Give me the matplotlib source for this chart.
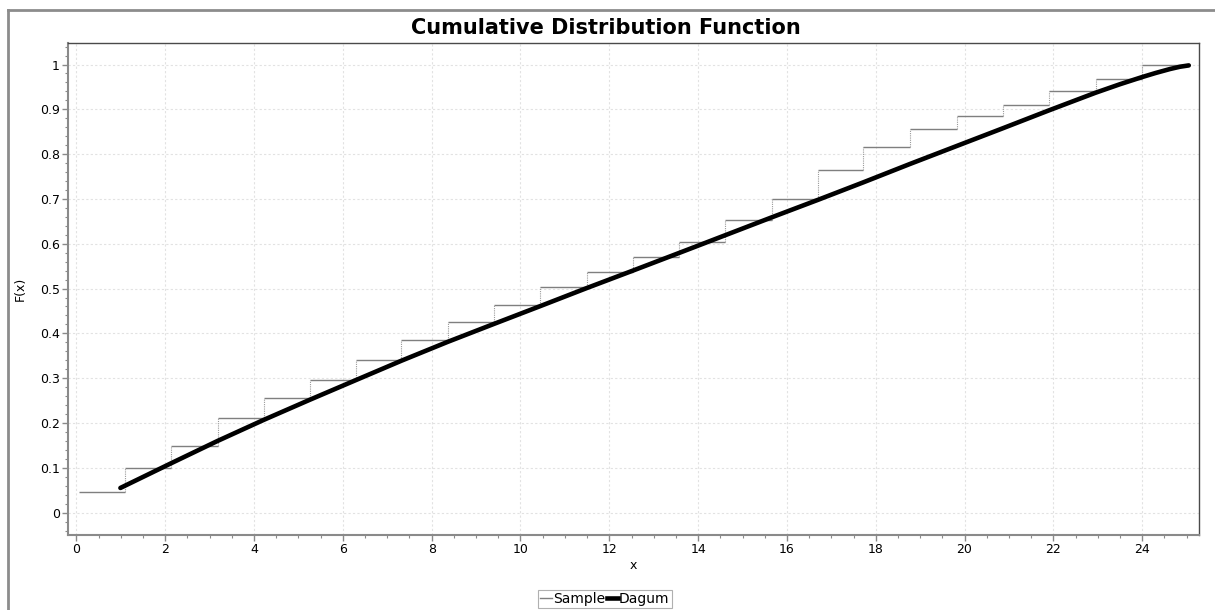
import matplotlib
matplotlib.use('Agg')
import matplotlib.pyplot as plt
from matplotlib.lines import Line2D
from matplotlib.ticker import MultipleLocator, FuncFormatter

# ---------------------------------------------------------------------------
# Data
# ---------------------------------------------------------------------------
sample_x = [0.06, 1.10, 2.13, 3.18, 4.22, 5.26, 6.30, 7.32, 8.36, 9.40,
            10.45, 11.49, 12.53, 13.56, 14.61, 15.66, 16.70, 17.72, 18.77,
            19.82, 20.87, 21.91, 22.95, 24.00]
sample_F = [0.046, 0.100, 0.149, 0.211, 0.256, 0.295, 0.341, 0.386, 0.425,
            0.463, 0.503, 0.536, 0.571, 0.603, 0.652, 0.699, 0.765, 0.816,
            0.857, 0.885, 0.909, 0.941, 0.967, 1.000]
sample_end = 25.0

dagum_x = [0.99, 2.13, 3.18, 4.22, 5.26, 6.30, 7.32, 8.36, 9.40, 10.45,
           11.49, 12.53, 13.56, 14.61, 15.66, 16.70, 17.72, 18.77, 19.82,
           20.87, 21.91, 22.95, 23.50, 24.00, 24.30, 24.63, 24.85, 25.05]
dagum_F = [0.055, 0.110, 0.160, 0.207, 0.252, 0.296, 0.339, 0.381, 0.421,
           0.461, 0.501, 0.540, 0.579, 0.619, 0.659, 0.698, 0.737, 0.778,
           0.818, 0.858, 0.898, 0.937, 0.956, 0.972, 0.981, 0.990, 0.995,
           0.998]

# ---------------------------------------------------------------------------
# Style
# ---------------------------------------------------------------------------
GRID = '#e2e2e2'
STEP = '#7f7f7f'
STEP_V = '#9a9a9a'
SPINE_LB = '#8a8a8a'
SPINE_TR = '#4a4a4a'
FRAME = '#8c8c8c'

W, H = 1215, 610
fig = plt.figure(figsize=(W / 100, H / 100), dpi=100)
fig.patch.set_facecolor('white')

# page frame from the document screenshot
fig.add_artist(Line2D([7.5 / W, 7.5 / W], [0, 1 - 10 / H], color=FRAME, lw=2))
fig.add_artist(Line2D([7.5 / W, 1], [1 - 10 / H, 1 - 10 / H], color=FRAME, lw=2))

ax = fig.add_axes([68 / W, 1 - 535 / H, (1199 - 68) / W, (535 - 43) / H])
ax.set_xlim(-0.19, 25.28)
ax.set_ylim(-0.05, 1.048)

# grid
ax.grid(True, which='major', color=GRID, lw=0.8, linestyle=(0, (2, 2)))
ax.set_axisbelow(True)

# sample step function
ends = sample_x[1:] + [sample_end]
ax.hlines(sample_F, sample_x, ends, color=STEP, lw=1.0, zorder=2)
ax.vlines(sample_x[1:], sample_F[:-1], sample_F[1:], color=STEP_V, lw=0.8,
          linestyles=(0, (1, 1)), zorder=2)

# Dagum fit
ax.plot(dagum_x, dagum_F, color='black', lw=3.3, solid_capstyle='round',
        solid_joinstyle='round', zorder=3)

# axes styling
for side in ('left', 'bottom'):
    ax.spines[side].set_color(SPINE_LB)
    ax.spines[side].set_linewidth(1.5)
for side in ('top', 'right'):
    ax.spines[side].set_color(SPINE_TR)
    ax.spines[side].set_linewidth(1.0)

ax.xaxis.set_major_locator(MultipleLocator(2))
ax.xaxis.set_minor_locator(MultipleLocator(0.5))
ax.yaxis.set_major_locator(MultipleLocator(0.1))
ax.yaxis.set_minor_locator(MultipleLocator(0.02))
ax.yaxis.set_major_formatter(FuncFormatter(lambda v, p: f'{v:.1f}'.rstrip('0').rstrip('.') if abs(v) > 1e-9 else '0'))
ax.tick_params(which='major', direction='out', length=4, width=1,
               color=SPINE_LB, labelsize=9, pad=2)
ax.tick_params(which='minor', direction='out', length=2.5, width=0.8,
               color=SPINE_LB)

ax.set_xlabel('x', fontsize=9, labelpad=2)
ax.set_ylabel('F(x)', fontsize=9, labelpad=9)

fig.text(0.499, 1 - 28.5 / H, 'Cumulative Distribution Function',
         fontsize=15, fontweight='bold', ha='center', va='center')

handles = [Line2D([], [], color=STEP, lw=1.0),
           Line2D([], [], color='black', lw=3.3)]
leg = fig.legend(handles, ['Sample', 'Dagum'], loc='center',
                 bbox_to_anchor=(605 / W, 1 - 599 / H), ncol=2, fontsize=10,
                 handlelength=0.8, handletextpad=0.1, columnspacing=0.1,
                 borderpad=0.15, borderaxespad=0, fancybox=False,
                 framealpha=1, edgecolor='#b0b0b0')
leg.get_frame().set_linewidth(0.8)

fig.savefig('out.png', dpi=100, facecolor='white')
